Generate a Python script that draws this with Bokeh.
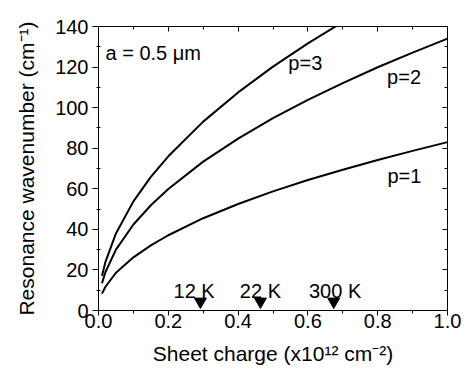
from bokeh.plotting import figure
from bokeh.models import LinearAxis, FixedTicker, PrintfTickFormatter, Range1d
from bokeh.core.properties import value
from bokeh.embed import file_html
from bokeh.resources import INLINE

# ---- data ----
sheet_charge = [0.01, 0.02, 0.05, 0.1, 0.15, 0.2, 0.3, 0.4, 0.5, 0.6, 0.7, 0.8, 0.9, 1.0]
p1_wavenumber = [8.3, 11.7, 18.6, 26.2, 32.1, 37.1, 45.5, 52.5, 58.7, 64.3, 69.4, 74.2, 78.7, 83.0]
p2_wavenumber = [13.4, 19.0, 30.0, 42.4, 51.9, 59.9, 73.4, 84.7, 94.8, 103.8, 112.1, 119.9, 127.1, 134.0]
p3_wavenumber = [17.0, 24.0, 38.0, 53.8, 65.9, 76.0, 93.1, 107.5, 120.2, 131.7, 142.2, 152.0, 161.3, 170.0]

mode_labels = ["p=3", "p=2", "p=1"]
mode_label_x = [0.544, 0.827, 0.828]
mode_label_y = [122.2, 115.2, 66.2]

note_label = ["a = 0.5 μm"]
note_x = [0.02]
note_y = [127.0]

temp_labels = ["12 K", "22 K", "300 K"]
temp_x = [0.292, 0.464, 0.674]
temp_label_x = [0.274, 0.464, 0.678]
temp_marker_y = [4.4, 4.4, 4.4]
temp_label_y = [9.6, 9.6, 9.6]

x_major = [0.0, 0.2, 0.4, 0.6, 0.8, 1.0]
x_minor = [0.1, 0.3, 0.5, 0.7, 0.9]
y_major = [0, 20, 40, 60, 80, 100, 120, 140]
y_minor = [10, 30, 50, 70, 90, 110, 130]

FONT = "Liberation Sans"
FS = "20px"
FS_LABEL = "21px"

p = figure(frame_width=349, frame_height=284,
           x_range=Range1d(0, 1), y_range=Range1d(0, 140),
           output_backend="svg", toolbar_location=None,
           min_border_left=98, min_border_right=19, min_border_top=26, min_border_bottom=63,
           background_fill_color="white", border_fill_color="white")
p.grid.visible = False
p.outline_line_color = "black"
p.outline_line_width = 1

xt = FixedTicker(ticks=x_major, minor_ticks=x_minor)
yt = FixedTicker(ticks=y_major, minor_ticks=y_minor)

def base_style(ax):
    ax.axis_line_color = "black"
    ax.axis_line_width = 1
    ax.major_tick_line_color = "black"
    ax.minor_tick_line_color = "black"
    ax.major_tick_line_width = 1
    ax.minor_tick_line_width = 1
    ax.major_label_text_font = FONT
    ax.major_label_text_font_size = FS
    ax.major_label_text_color = "black"
    ax.axis_label_text_font = FONT
    ax.axis_label_text_font_size = FS_LABEL
    ax.axis_label_text_font_style = "normal"
    ax.axis_label_text_color = "black"

xa = p.xaxis[0]
xa.ticker = xt
xa.formatter = PrintfTickFormatter(format="%.1f")
base_style(xa)
xa.major_tick_out = 5
xa.major_tick_in = 0
xa.minor_tick_out = 3
xa.minor_tick_in = 0
xa.major_label_standoff = -2
xa.axis_label = "Sheet charge (x10¹² cm⁻²)"
xa.axis_label_standoff = 11

ya = p.yaxis[0]
ya.ticker = yt
base_style(ya)
ya.major_tick_out = 6
ya.major_tick_in = 0
ya.minor_tick_out = 2
ya.minor_tick_in = 2
ya.major_label_standoff = 4
ya.axis_label = "Resonance wavenumber (cm⁻¹)"
ya.axis_label_standoff = 14

top = LinearAxis(ticker=FixedTicker(ticks=x_major, minor_ticks=x_minor))
base_style(top)
top.major_label_text_font_size = "0px"
top.major_tick_in = 5
top.major_tick_out = 0
top.minor_tick_in = 3
top.minor_tick_out = 0
top.major_label_standoff = 0
p.add_layout(top, "above")

right = LinearAxis(ticker=FixedTicker(ticks=y_major, minor_ticks=y_minor))
base_style(right)
right.major_label_text_font_size = "0px"
right.major_tick_in = 5
right.major_tick_out = 0
right.minor_tick_in = 3
right.minor_tick_out = 0
right.major_label_standoff = 0
p.add_layout(right, "right")

for ys in (p1_wavenumber, p2_wavenumber, p3_wavenumber):
    p.line(sheet_charge, ys, line_color="black", line_width=2)

p.text(x=mode_label_x, y=mode_label_y, text=mode_labels,
       text_font=value(FONT), text_font_size=FS, text_color="black",
       text_align="left", text_baseline="alphabetic")

p.text(x=note_x, y=note_y, text=note_label,
       text_font=value(FONT), text_font_size=FS, text_color="black",
       text_align="left", text_baseline="alphabetic")

p.scatter(x=temp_x, y=temp_marker_y, marker="inverted_triangle", size=12,
          fill_color="black", line_color="black")
p.text(x=temp_label_x, y=temp_label_y, text=temp_labels,
       text_font=value(FONT), text_font_size=FS, text_color="black",
       text_align="center", text_baseline="alphabetic")

open("out.html", "w").write(file_html(p, INLINE))
